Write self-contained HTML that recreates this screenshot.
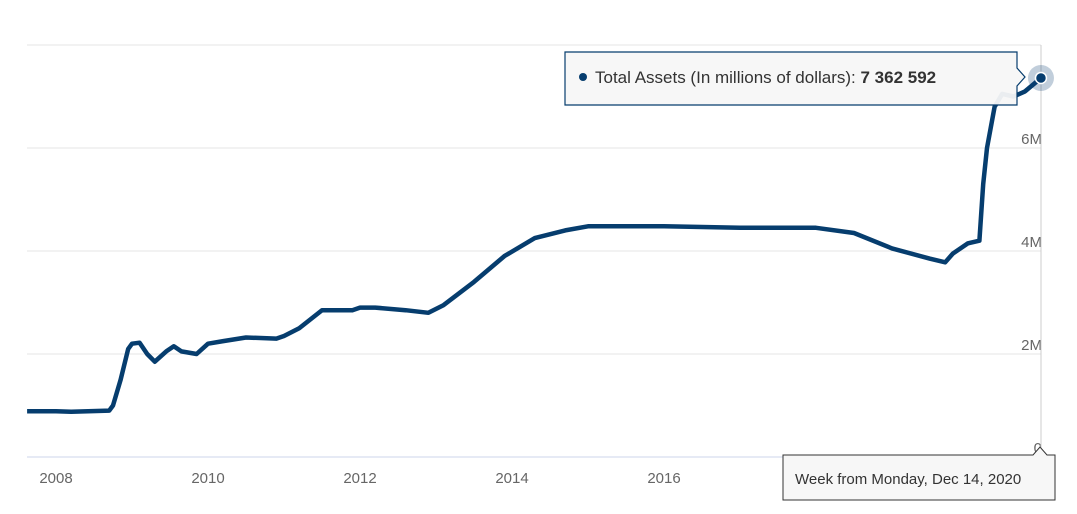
<!DOCTYPE html>
<html><head><meta charset="utf-8"><style>
body{margin:0;background:#fff;font-family:"Liberation Sans",sans-serif}
svg{display:block}
</style></head><body>
<svg width="1077" height="514">
<g id="grid"></g>
<g id="ylab"></g>
<g id="xlab"></g>
<line x1="1041" y1="45" x2="1041" y2="457" stroke="#ccc" stroke-width="1"/>
<path id="line" fill="none" stroke="#063d6e" stroke-width="4.5" stroke-linejoin="round"/>
<circle id="hl" r="13" fill="#063d6e" fill-opacity="0.25"/>
<circle id="pt" r="5.5" fill="#063d6e" stroke="#fff" stroke-width="1.5"/>
<g>
<path d="M565,52 H1017 V68 L1025,77 L1017,86 V105 H565 Z" fill="#f7f7f7" fill-opacity="0.95" stroke="#063d6e" stroke-width="1.2"/>
<circle cx="583" cy="77" r="4" fill="#063d6e"/>
<text x="595" y="83" font-size="17" fill="#333">Total Assets (In millions of dollars): <tspan font-weight="bold">7 362 592</tspan></text>
</g>
<g>
<path d="M783,455 H1033 L1040,447 L1047,455 H1055 V500 H783 Z" fill="#f7f7f7" stroke="#333" stroke-width="1"/>
<text x="795" y="484" font-size="15" fill="#333">Week from Monday, Dec 14, 2020</text>
</g>
</svg>
<script>
const yTicks=[0,2,4,6,8];
const yTickLabels=["0","2M","4M","6M",""];
const xTicks=[2008,2010,2012,2014,2016,2018];
const xTickLabels=["2008","2010","2012","2014","2016","2018"];
const dates=[2007.62,2008.0,2008.2,2008.7,2008.75,2008.85,2008.95,2009.0,2009.1,2009.2,2009.3,2009.45,2009.55,2009.65,2009.85,2010.0,2010.2,2010.5,2010.9,2011.0,2011.2,2011.5,2011.9,2012.0,2012.2,2012.6,2012.9,2013.1,2013.5,2013.9,2014.3,2014.7,2015.0,2016.0,2017.0,2018.0,2018.5,2019.0,2019.5,2019.7,2019.8,2020.0,2020.15,2020.2,2020.25,2020.35,2020.45,2020.6,2020.75,2020.96];
const values=[0.89,0.89,0.88,0.9,1.0,1.5,2.1,2.2,2.22,2.0,1.85,2.05,2.15,2.05,2.0,2.2,2.25,2.32,2.3,2.35,2.5,2.85,2.85,2.9,2.9,2.85,2.8,2.95,3.4,3.9,4.25,4.4,4.48,4.48,4.45,4.45,4.35,4.05,3.85,3.78,3.95,4.15,4.2,5.3,6.0,6.8,7.05,7.0,7.1,7.36];
const X=t=>56+(t-2008)*76.0;
const Y=v=>457-v*51.5;
const ns="http://www.w3.org/2000/svg";
const g=document.getElementById('grid'),yl=document.getElementById('ylab'),xl=document.getElementById('xlab');
yTicks.forEach((v,i)=>{
 const l=document.createElementNS(ns,'line');
 
 
 l.setAttribute('x1',27);l.setAttribute('x2',1041);l.setAttribute('y1',Y(v));l.setAttribute('y2',Y(v));
 l.setAttribute('stroke',v===0?'#ccd6eb':'#e6e6e6');l.setAttribute('stroke-width',1);
 g.appendChild(l);
 const t=document.createElementNS(ns,'text');
 
 
 t.setAttribute('x',1042);t.setAttribute('y',Y(v)-4);t.setAttribute('text-anchor','end');
 t.setAttribute('font-size','15');t.setAttribute('fill','#666');t.textContent=yTickLabels[i];
 yl.appendChild(t);
});
xTicks.forEach((d,i)=>{
 const t=document.createElementNS(ns,'text');
 
 
 t.setAttribute('x',X(d));t.setAttribute('y',483);t.setAttribute('text-anchor','middle');
 t.setAttribute('font-size','15');t.setAttribute('fill','#666');t.textContent=xTickLabels[i];
 xl.appendChild(t);
});
document.getElementById('line').setAttribute('d',dates.map((d,i)=>(i?'L':'M')+X(d).toFixed(1)+','+Y(values[i]).toFixed(1)).join(''));
const n=dates.length-1;
['hl','pt'].forEach(id=>{const c=document.getElementById(id);c.setAttribute('cx',X(dates[n]));c.setAttribute('cy',Y(values[n]));});
</script>
</body></html>
